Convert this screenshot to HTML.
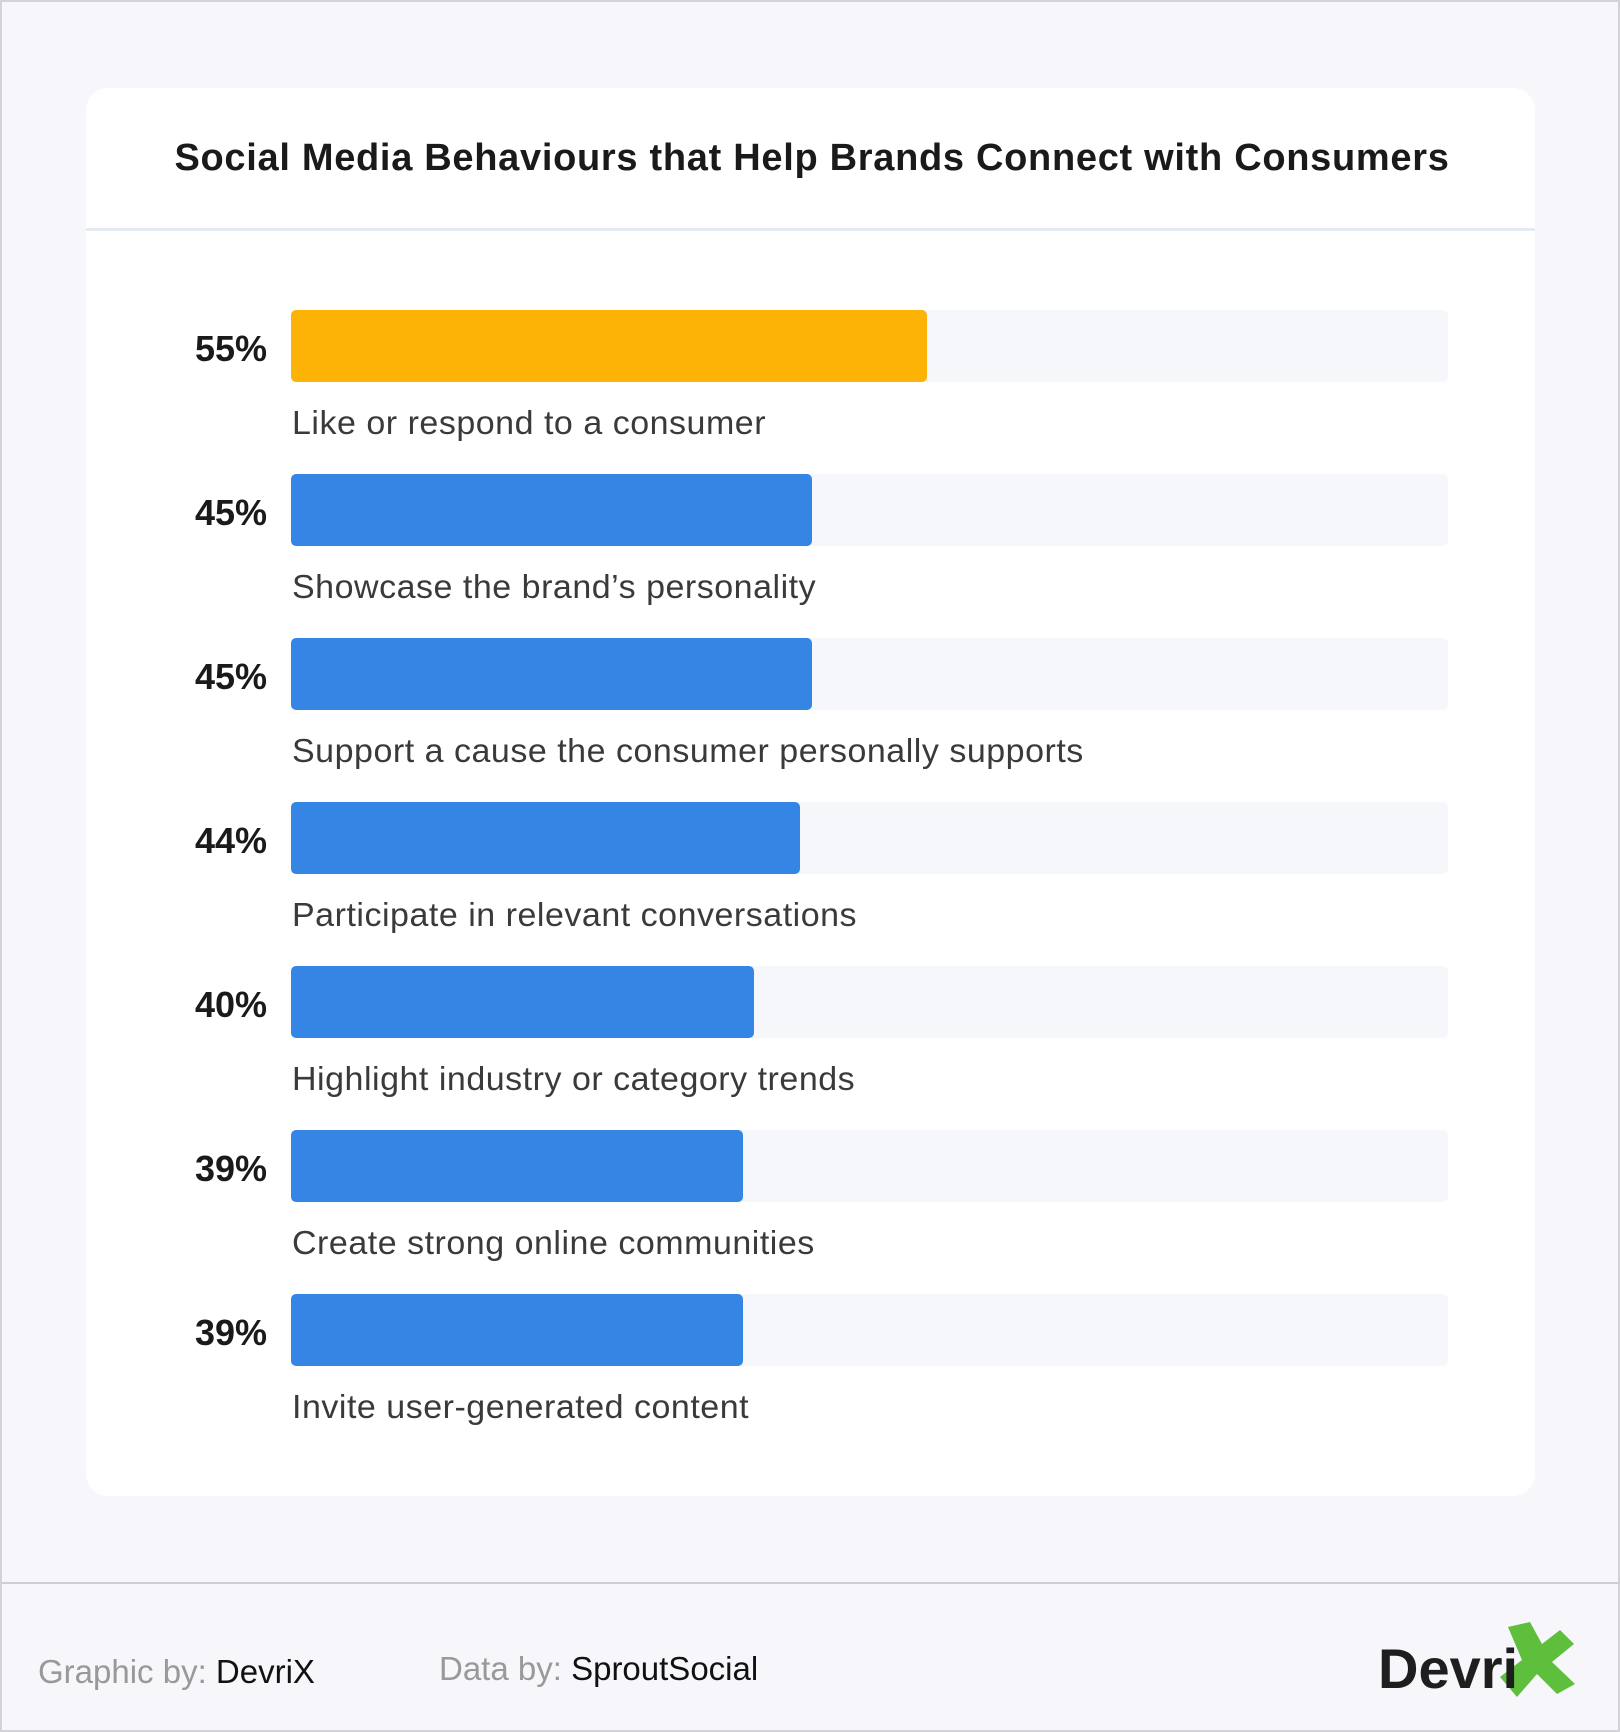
<!DOCTYPE html>
<html><head><meta charset="utf-8"><style>
*{margin:0;padding:0;box-sizing:border-box}
body{width:1620px;height:1732px;background:#f6f6fb;position:relative;font-family:"Liberation Sans",sans-serif;overflow:hidden;border:2px solid #d4d4d8}
.card{position:absolute;left:84px;top:86px;width:1449px;height:1408px;background:#fff;border-radius:22px}
.sep{position:absolute;left:84px;top:226px;width:1449px;height:3px;background:#e4eaf2}
.title{position:absolute;left:0;width:1620px;top:135px;text-align:center;font-weight:bold;font-size:38px;color:#1a1a1a;letter-spacing:0.7px}
.track{position:absolute;left:289px;width:1157px;height:72px;background:#f6f7fb;border-radius:5px}
.bar{position:absolute;left:289px;height:72px;background:#3585e4;border-radius:5px}
.pct{position:absolute;left:150px;width:115px;text-align:right;font-weight:bold;font-size:36px;color:#1a1a1a}
.lab{position:absolute;left:290px;font-size:33px;color:#3a3a3a;letter-spacing:0.5px;transform:scaleX(1.03);transform-origin:left}
.foot{position:absolute;left:0;top:1580px;width:1620px;height:2px;background:#cfcfd3}
.f{position:absolute;font-size:33px;top:1651px}
</style></head><body>
<div class="card"></div><div class="sep"></div>
<div class="title">Social Media Behaviours that Help Brands Connect with Consumers</div>

<div class="track" style="top:308px"></div><div class="bar" style="top:308px;width:636px;background:#fdb305"></div>
<div class="pct" style="top:326px">55%</div><div class="lab" style="top:402px">Like or respond to a consumer</div>

<div class="track" style="top:472px"></div><div class="bar" style="top:472px;width:521px"></div>
<div class="pct" style="top:490px">45%</div><div class="lab" style="top:566px">Showcase the brand’s personality</div>

<div class="track" style="top:636px"></div><div class="bar" style="top:636px;width:521px"></div>
<div class="pct" style="top:654px">45%</div><div class="lab" style="top:730px">Support a cause the consumer personally supports</div>

<div class="track" style="top:800px"></div><div class="bar" style="top:800px;width:509px"></div>
<div class="pct" style="top:818px">44%</div><div class="lab" style="top:894px">Participate in relevant conversations</div>

<div class="track" style="top:964px"></div><div class="bar" style="top:964px;width:463px"></div>
<div class="pct" style="top:982px">40%</div><div class="lab" style="top:1058px">Highlight industry or category trends</div>

<div class="track" style="top:1128px"></div><div class="bar" style="top:1128px;width:452px"></div>
<div class="pct" style="top:1146px">39%</div><div class="lab" style="top:1222px">Create strong online communities</div>

<div class="track" style="top:1292px"></div><div class="bar" style="top:1292px;width:452px"></div>
<div class="pct" style="top:1310px">39%</div><div class="lab" style="top:1386px">Invite user-generated content</div>

<div class="foot"></div>
<div class="f" style="left:36px;color:#999">Graphic by: <span style="color:#111">DevriX</span></div>
<div class="f" style="left:437px;top:1648px;color:#999">Data by: <span style="color:#111">SproutSocial</span></div>
<svg style="position:absolute;left:1490px;top:1620px" width="100" height="80" viewBox="0 0 100 80">
<polygon points="16,5 38,0 50,22 68,8 82,22 60,40 83,62 65,72 45,52 25,75 8,55 30,38" fill="#5dbf3c"/>
</svg>
<div style="position:absolute;left:1376px;top:1634px;font-weight:bold;font-size:56px;color:#1e1e1e">Devri</div>
</body></html>
